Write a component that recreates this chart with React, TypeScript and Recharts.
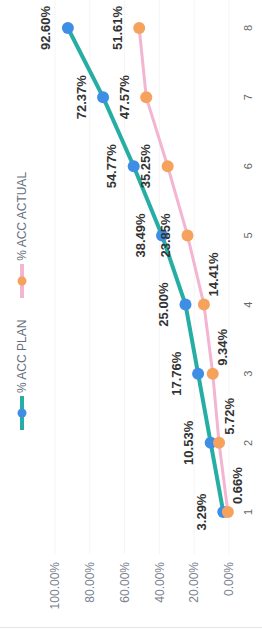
import { CartesianGrid, LabelList, Line, LineChart, XAxis, YAxis } from 'recharts';

const categories = ['1', '2', '3', '4', '5', '6', '7', '8'];
const planValues = [3.29, 10.53, 17.76, 25.0, 38.49, 54.77, 72.37, 92.6];
const actualValues = [0.66, 5.72, 9.34, 14.41, 23.85, 35.25, 47.57, 51.61];
const valueTicks = [0, 20, 40, 60, 80, 100];
const planName = '% ACC PLAN';
const actualName = '% ACC ACTUAL';

const data = categories.map((period, i) => ({
  period,
  plan: planValues[i],
  actual: actualValues[i],
}));

const TEAL = '#27aea4';
const BLUE = '#3f8ee6';
const PINK = '#f3b5d1';
const ORANGE = '#f5a25c';

const pct = (v: number) => `${v.toFixed(2)}%`;

function pos(props: any) {
  const x = props.x ?? props.viewBox?.x ?? 0;
  const y = props.y ?? props.viewBox?.y ?? 0;
  return { x, y };
}

// plan labels sit above every point
const planLabel = (props: any) => {
  const { x, y } = pos(props);
  return (
    <text
      x={x}
      y={y - 22}
      textAnchor="middle"
      dominantBaseline="central"
      fontSize={13}
      fontWeight="bold"
      fill="#333"
    >
      {pct(Number(props.value))}
    </text>
  );
};

// actual labels: first four below-right, the rest above
const actualLabel = (props: any) => {
  const { x, y } = pos(props);
  const below = props.index < 4;
  return (
    <text
      x={below ? x + 8 : x}
      y={below ? y + 10 : y - 22}
      textAnchor={below ? 'start' : 'middle'}
      dominantBaseline="central"
      fontSize={13}
      fontWeight="bold"
      fill="#333"
    >
      {pct(Number(props.value))}
    </text>
  );
};

function LegendIcon({ line, dot }: { line: string; dot: string }) {
  return (
    <svg width={34} height={12} style={{ display: 'block' }}>
      <line x1={0} y1={6} x2={34} y2={6} stroke={line} strokeWidth={4} />
      <circle cx={17} cy={6} r={4.5} fill={dot} />
    </svg>
  );
}

export default function App() {
  return (
    <div style={{ position: 'absolute', top: 0, left: 0, width: 262, height: 630, background: '#fff', overflow: 'hidden' }}>
      <div
        style={{
          position: 'absolute',
          top: 0,
          left: 0,
          width: 630,
          height: 262,
          transformOrigin: '0 0',
          transform: 'translateY(630px) rotate(-90deg)',
          fontFamily: '"Liberation Sans", Arial, sans-serif',
        }}
      >
        {/* frame edge */}
        <div style={{ position: 'absolute', left: 2, top: 0, width: 1, height: 262, background: '#e6e6e6' }} />

        {/* LEGEND */}
        <div
          style={{
            position: 'absolute',
            top: 14,
            left: 200,
            display: 'flex',
            alignItems: 'center',
            fontSize: 12,
            color: '#66707d',
            lineHeight: '16px',
          }}
        >
          <LegendIcon line={TEAL} dot={BLUE} />
          <span style={{ marginLeft: 3, marginRight: 22 }}>{planName}</span>
          <LegendIcon line={PINK} dot={ORANGE} />
          <span style={{ marginLeft: 3 }}>{actualName}</span>
        </div>

        {/* CHART */}
        <LineChart width={630} height={262} data={data} margin={{ top: 55, right: 0, bottom: 0, left: 0 }}>
          <CartesianGrid vertical={false} stroke="#f5f5f5" />
          <XAxis
            dataKey="period"
            axisLine={false}
            tickLine={false}
            tickSize={0}
            tickMargin={15}
            height={33}
            padding={{ left: 42, right: 28 }}
            tick={{ fontSize: 11, fill: '#666' }}
          />
          <YAxis
            domain={[0, 100]}
            ticks={valueTicks}
            tickFormatter={pct}
            axisLine={false}
            tickLine={false}
            width={76}
            tick={{ fontSize: 12, fill: '#7a8290' }}
          />
          <Line
            dataKey="actual"
            name={actualName}
            stroke={PINK}
            strokeWidth={3}
            dot={false}
            activeDot={false}
            isAnimationActive={false}
          >
            <LabelList dataKey="actual" content={actualLabel} />
          </Line>
          <Line
            dataKey="plan"
            name={planName}
            stroke={TEAL}
            strokeWidth={4}
            dot={{ r: 6, fill: BLUE, stroke: BLUE, strokeWidth: 0 }}
            activeDot={false}
            isAnimationActive={false}
          >
            <LabelList dataKey="plan" content={planLabel} />
          </Line>
          <Line
            dataKey="actual"
            stroke="none"
            dot={{ r: 6, fill: ORANGE, stroke: ORANGE, strokeWidth: 0 }}
            activeDot={false}
            legendType="none"
            isAnimationActive={false}
          />
        </LineChart>
      </div>
    </div>
  );
}
